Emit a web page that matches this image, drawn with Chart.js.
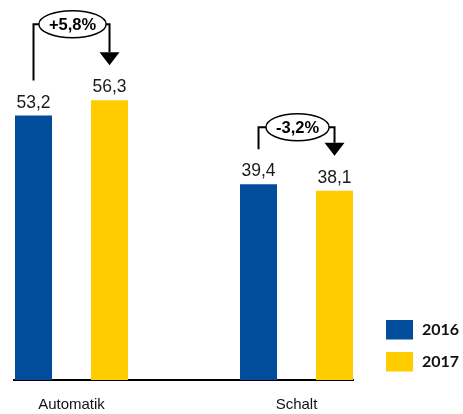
<!DOCTYPE html>
<html>
<head>
<meta charset="utf-8">
<script src="https://cdn.jsdelivr.net/npm/chart.js@4.4.0/dist/chart.umd.min.js"></script>
<style>
  html, body { margin: 0; padding: 0; background: #fff; }
  #wrap { width: 463px; height: 414px; }
</style>
</head>
<body>
<div id="wrap"><canvas id="chart" width="463" height="414"></canvas></div>
<script>
// values
const categories = ["Automatik", "Schalt"];
const years = ["2016", "2017"];
const values2016 = [53.2, 39.4];
const values2017 = [56.3, 38.1];
const changeLabels = ["+5,8%", "-3,2%"];

const blue = "#024c9c";
const yellow = "#ffcc00";

const fmt = v => v.toFixed(1).replace(".", ",");

// value labels above the bars
const valueLabels = {
    id: "valueLabels",
    afterDatasetsDraw(chart) {
        const ctx = chart.ctx;
        ctx.save();
        ctx.font = "17.5px 'Liberation Sans', Arial, sans-serif";
        ctx.fillStyle = "#1a1a1a";
        ctx.textAlign = "center";
        ctx.textBaseline = "alphabetic";
        chart.data.datasets.forEach((ds, di) => {
            chart.getDatasetMeta(di).data.forEach((bar, i) => {
                ctx.fillText(fmt(ds.data[i]), bar.x, bar.y - 8);
            });
        });
        ctx.restore();
    }
};

// bracket arrows with the change in an oval
const changeArrows = {
    id: "changeArrows",
    afterDatasetsDraw(chart, args, opts) {
        const ctx = chart.ctx;
        const from = chart.getDatasetMeta(0).data;
        const to = chart.getDatasetMeta(1).data;
        ctx.save();
        ctx.strokeStyle = "#000";
        ctx.fillStyle = "#000";
        ctx.lineWidth = 2;
        from.forEach((a, i) => {
            const b = to[i];
            const startY = a.y - opts.gap;
            const tipY = b.y - opts.gap;
            const levelY = Math.min(a.y, b.y) - opts.rise[i];
            const cx = (a.x + b.x) / 2 + 1;

            ctx.font = "bold 16.5px 'Liberation Sans', Arial, sans-serif";
            const rx = ctx.measureText(changeLabels[i]).width / 2 + 10;
            const ry = 13.5;

            ctx.beginPath();
            ctx.moveTo(a.x, startY);
            ctx.lineTo(a.x, levelY);
            ctx.lineTo(cx - rx, levelY);
            ctx.moveTo(cx + rx, levelY);
            ctx.lineTo(b.x, levelY);
            ctx.lineTo(b.x, tipY - opts.head);
            ctx.stroke();

            ctx.beginPath();
            ctx.moveTo(b.x - 10, tipY - opts.head);
            ctx.lineTo(b.x + 10, tipY - opts.head);
            ctx.lineTo(b.x, tipY);
            ctx.closePath();
            ctx.fill();

            ctx.lineWidth = 1.5;
            ctx.beginPath();
            ctx.ellipse(cx, levelY, rx, ry, 0, 0, Math.PI * 2);
            ctx.fillStyle = "#fff";
            ctx.fill();
            ctx.stroke();
            ctx.lineWidth = 2;

            ctx.fillStyle = "#000";
            ctx.textAlign = "center";
            ctx.textBaseline = "middle";
            ctx.fillText(changeLabels[i], cx, levelY + 1);
        });
        ctx.restore();
    }
};

// legend at bottom right
const sideLegend = {
    id: "sideLegend",
    afterDraw(chart, args, opts) {
        const ctx = chart.ctx;
        ctx.save();
        ctx.font = "bold 16px Lato, 'Liberation Sans', sans-serif";
        ctx.textBaseline = "middle";
        ctx.textAlign = "left";
        chart.data.datasets.forEach((ds, i) => {
            const y = opts.top + i * opts.step;
            ctx.fillStyle = ds.backgroundColor;
            ctx.fillRect(opts.left, y, 27, 19.5);
            ctx.fillStyle = "#111";
            ctx.fillText(ds.label, opts.left + 36, y + 10);
        });
        ctx.restore();
    }
};

new Chart(document.getElementById("chart").getContext("2d"), {
    type: "bar",
    data: {
        labels: categories.map((c, i) => i),
        datasets: [
            { label: years[0], data: values2016, backgroundColor: blue },
            { label: years[1], data: values2017, backgroundColor: yellow }
        ]
    },
    options: {
        responsive: false,
        animation: false,
        categoryPercentage: 0.6756,
        barPercentage: 0.487,
        layout: { padding: { left: 14, right: 110, top: 81.8, bottom: 1 } },
        plugins: {
            legend: { display: false },
            tooltip: { enabled: false },
            changeArrows: { gap: 35, head: 13, rise: [76, 57] },
            sideLegend: { left: 386, top: 320, step: 32 }
        },
        scales: {
            x: {
                type: "linear",
                offset: false,
                min: -0.2556,
                max: 1.251,
                afterBuildTicks: scale => {
                    scale.ticks = categories.map((c, i) => ({ value: i }));
                },
                afterFit: scale => { scale.height = 33; },
                grid: { display: false, drawTicks: false, offset: false },
                border: { display: true, color: "#000", width: 2 },
                ticks: {
                    padding: 16,
                    color: "#111",
                    font: { family: "'Liberation Sans', Arial, sans-serif", size: 15 },
                    callback: v => categories[v]
                }
            },
            y: {
                display: false,
                min: 0,
                max: 60
            }
        }
    },
    plugins: [valueLabels, changeArrows, sideLegend]
});
</script>
</body>
</html>
